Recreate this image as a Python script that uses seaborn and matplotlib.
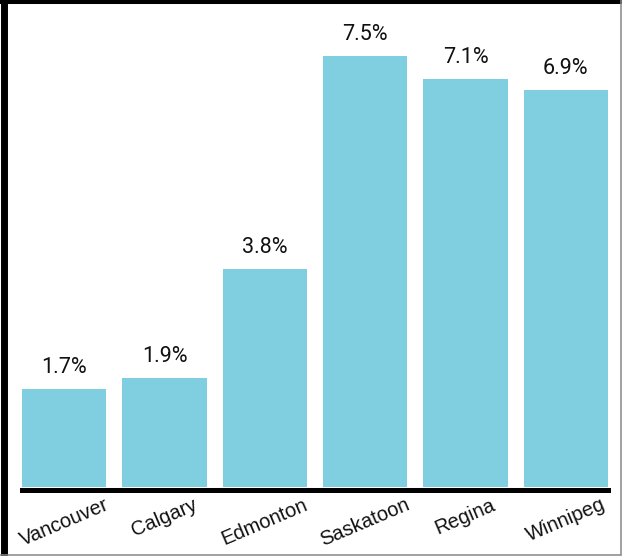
import pandas as pd
import seaborn as sns
import matplotlib.pyplot as plt
from matplotlib.lines import Line2D
plt.switch_backend('agg')

# data
cities = ['Vancouver', 'Calgary', 'Edmonton', 'Saskatoon', 'Regina', 'Winnipeg']
rates = [1.7, 1.9, 3.8, 7.5, 7.1, 6.9]
labels = ['1.7%', '1.9%', '3.8%', '7.5%', '7.1%', '6.9%']

bar_color = '#80cfe1'

sns.set_style('white')
plt.rcParams['font.family'] = ['Liberation Sans', 'DejaVu Sans']

df = pd.DataFrame({'city': cities, 'rate': rates})

W, H = 622, 556
fig = plt.figure(figsize=(W / 100, H / 100), dpi=100)
ax = fig.add_axes([22 / W, (H - 487) / H, (608 - 22) / W, (487 - 10) / H])

sns.barplot(data=df, x='city', y='rate', color=bar_color, saturation=1,
            width=0.84, linewidth=0, edgecolor='none', ax=ax, zorder=3)

ax.set_xlim(-0.42, 5.42)
ax.set_ylim(0, 8.3)

for i, (v, lab) in enumerate(zip(rates, labels)):
    ax.annotate(lab, xy=(i, v), xytext=(0, 8), textcoords='offset points',
                ha='center', va='bottom', fontsize=15.5,
                family=['Roboto', 'DejaVu Sans'], color='#111111')

for s in ['top', 'right', 'left']:
    ax.spines[s].set_visible(False)
ax.spines['bottom'].set_color('black')
ax.spines['bottom'].set_linewidth(3.6)
ax.spines['bottom'].set_position(('outward', 1.8))

ax.set_yticks([])
ax.set_xlabel('')
ax.set_ylabel('')
ax.set_xticks(range(len(cities)), cities, ha='center')
ax.tick_params(axis='x', length=0, pad=4, labelsize=14.5, labelrotation=23,
               labelcolor='#111111')

# frame around the picture
fig.add_artist(Line2D([3.5 / W, 3.5 / W], [0, 1], transform=fig.transFigure,
                      color='black', lw=5))
fig.add_artist(Line2D([0, 621 / W], [1 - 2 / H, 1 - 2 / H], transform=fig.transFigure,
                      color='black', lw=2.9))
fig.add_artist(Line2D([620.5 / W, 620.5 / W], [1.5 / H, 1], transform=fig.transFigure,
                      color='#888888', lw=1.1))
fig.add_artist(Line2D([0, 621 / W], [1.5 / H, 1.5 / H], transform=fig.transFigure,
                      color='#888888', lw=1.1))

fig.savefig('out.png', dpi=100)
